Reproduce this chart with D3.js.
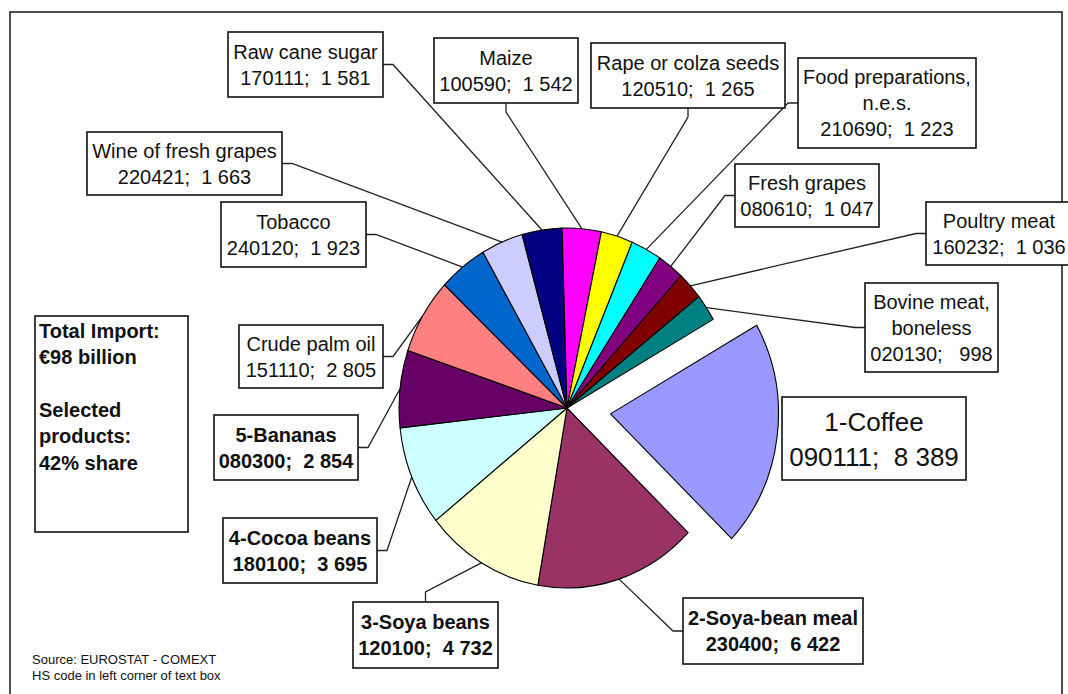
<!DOCTYPE html>
<html>
<head>
<meta charset="utf-8">
<script src="https://cdn.jsdelivr.net/npm/d3@7"></script>
<style>
  body { margin: 0; background: #fff; }
  svg text { font-family: "Liberation Sans", Arial, sans-serif; fill: #111; white-space: pre; }
</style>
</head>
<body>
<svg id="chart" width="1068" height="694"></svg>
<script>
// EU imports, selected products (EUR million)
const products = ["1-Coffee", "2-Soya-bean meal", "3-Soya beans", "4-Cocoa beans", "5-Bananas",
    "Crude palm oil", "Tobacco", "Wine of fresh grapes", "Raw cane sugar", "Maize",
    "Rape or colza seeds", "Food preparations, n.e.s.", "Fresh grapes", "Poultry meat", "Bovine meat, boneless"];
const hsCodes = ["090111", "230400", "120100", "180100", "080300", "151110", "240120", "220421",
    "170111", "100590", "120510", "210690", "080610", "160232", "020130"];
const values = [8389, 6422, 4732, 3695, 2854, 2805, 1923, 1663, 1581, 1542, 1265, 1223, 1047, 1036, 998];
const colors = ["#9999FF", "#993366", "#FFFFCC", "#CCFFFF", "#660066", "#FF8080", "#0066CC", "#CCCCFF",
    "#000080", "#FF00FF", "#FFFF00", "#00FFFF", "#800080", "#800000", "#008080"];
const summaryLines = ["Total Import:", "€98 billion", "", "Selected", "products:", "42% share"];
const sourceLines = ["Source: EUROSTAT - COMEXT", "HS code in left corner of text box"];

// label boxes, same order as products
const boxes = [
    { x: 782, y: 397, w: 184, h: 83, side: null, size: 26, lh: 35 },
    { x: 683, y: 598, w: 180, h: 66, side: "left", bold: true },
    { x: 353, y: 602, w: 145, h: 66, side: "top", bold: true },
    { x: 223, y: 518, w: 154, h: 65, side: "right", bold: true },
    { x: 214, y: 415, w: 144, h: 65, side: "right", bold: true },
    { x: 239, y: 325, w: 144, h: 63, side: "right" },
    { x: 221, y: 202, w: 145, h: 65, side: "right" },
    { x: 87, y: 132, w: 195, h: 63, side: "right" },
    { x: 228, y: 32, w: 155, h: 65, side: "right" },
    { x: 434, y: 38, w: 144, h: 65, side: "bottom" },
    { x: 591, y: 43, w: 194, h: 65, side: "bottom" },
    { x: 798, y: 58, w: 178, h: 90, side: "left", wrap: true },
    { x: 735, y: 164, w: 144, h: 63, side: "left" },
    { x: 926, y: 202, w: 146, h: 63, side: "left" },
    { x: 865, y: 283, w: 133, h: 89, side: "left", wrap: true }
];

const svg = d3.select("#chart");
const cx = 567, cy = 408, radius = 180, squeeze = 0.933, explode = 47;
const start = 60.5 * Math.PI / 180;

const fmt = d3.formatLocale({ decimal: ",", thousands: " ", grouping: [3], currency: ["", ""] }).format(",d");
const pad = s => s.length < 5 ? " " + s : s;

const pie = d3.pie().sort(null).startAngle(start).endAngle(start + 2 * Math.PI);
const arcs = pie(values);
const arc = d3.arc().innerRadius(0).outerRadius(radius);
const mid = d => (d.startAngle + d.endAngle) / 2;
const edge = a => [cx + squeeze * radius * Math.sin(a), cy - radius * Math.cos(a)];

// outer frame
svg.append("rect")
    .attr("x", 10).attr("y", 12).attr("width", 1052).attr("height", 700)
    .attr("fill", "none").attr("stroke", "#222").attr("stroke-width", 1.6);

// leader lines: box edge -> short elbow -> slice edge
boxes.forEach((b, i) => {
    if (!b.side) return;
    let p, q;
    if (b.side === "left") { p = [b.x, b.y + b.h / 2]; q = [b.x - 10, p[1]]; }
    if (b.side === "right") { p = [b.x + b.w, b.y + b.h / 2]; q = [p[0] + 10, p[1]]; }
    if (b.side === "top") { p = [b.x + b.w / 2, b.y]; q = [p[0], b.y - 10]; }
    if (b.side === "bottom") { p = [b.x + b.w / 2, b.y + b.h]; q = [p[0], p[1] + 9]; }
    svg.append("path")
        .attr("d", d3.line()([p, q, edge(mid(arcs[i]))]))
        .attr("fill", "none").attr("stroke", "#222").attr("stroke-width", 1.3);
});

// pie (slightly narrower than tall, coffee pulled out)
const g = svg.append("g").attr("transform", `translate(${cx},${cy}) scale(${squeeze},1)`);
g.selectAll("path")
    .data(arcs)
    .join("path")
    .attr("d", arc)
    .attr("transform", (d, i) => i === 0
        ? `translate(${explode * Math.sin(mid(d))},${-explode * Math.cos(mid(d))})` : null)
    .attr("fill", (d, i) => colors[i])
    .attr("stroke", "#000")
    .attr("stroke-width", 1.1)
    .attr("stroke-linejoin", "round")
    .attr("vector-effect", "non-scaling-stroke");

// label boxes
boxes.forEach((b, i) => {
    const size = b.size || 20, lh = b.lh || 26;
    const name = products[i];
    const lines = b.wrap ? name.replace(", ", ",\n").split("\n") : [name];
    lines.push(`${hsCodes[i]};  ${pad(fmt(values[i]))}`);
    svg.append("rect")
        .attr("x", b.x).attr("y", b.y).attr("width", b.w).attr("height", b.h)
        .attr("fill", "#fff").attr("stroke", "#111").attr("stroke-width", 1.6);
    const y0 = b.y + (b.h - lines.length * lh) / 2 + lh * 0.78;
    svg.append("g").selectAll("text")
        .data(lines)
        .join("text")
        .attr("x", b.x + b.w / 2)
        .attr("y", (d, k) => y0 + k * lh)
        .attr("text-anchor", "middle")
        .attr("font-size", size)
        .attr("font-weight", b.bold ? "bold" : "normal")
        .text(d => d);
});

// summary box
svg.append("rect")
    .attr("x", 35).attr("y", 316).attr("width", 153).attr("height", 216)
    .attr("fill", "#fff").attr("stroke", "#111").attr("stroke-width", 1.6);
svg.append("g").selectAll("text")
    .data(summaryLines)
    .join("text")
    .attr("x", 39)
    .attr("y", (d, k) => 338 + k * 26.3)
    .attr("font-size", 20)
    .attr("font-weight", "bold")
    .text(d => d);

// source note
svg.append("g").selectAll("text")
    .data(sourceLines)
    .join("text")
    .attr("x", 32)
    .attr("y", (d, k) => 664 + k * 16)
    .attr("font-size", 13)
    .text(d => d);
</script>
</body>
</html>
